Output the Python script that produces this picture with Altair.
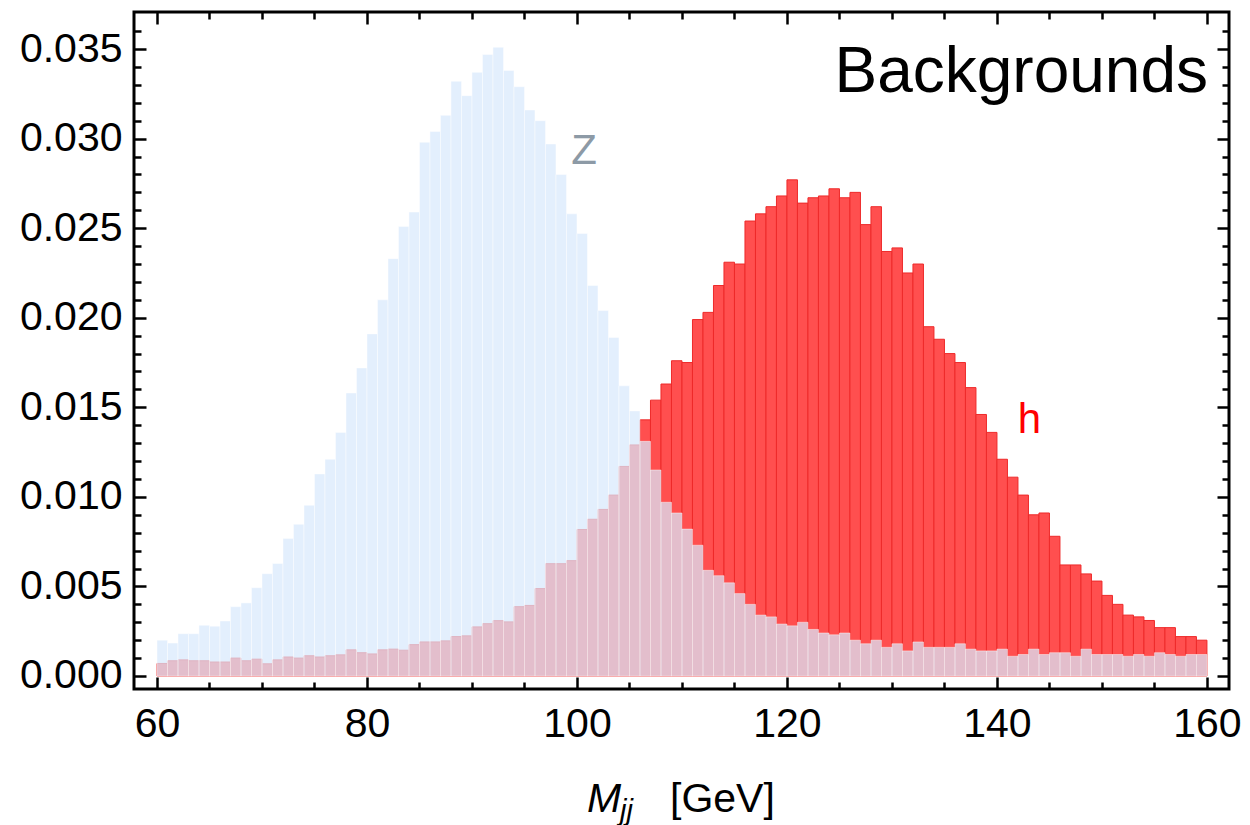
import altair as alt
import pandas as pd

# ---- data (bins of 1 GeV from 60 to 160) ----
bin_low = list(range(60, 160))

z_values = [
    0.0020, 0.00184, 0.00236, 0.00236, 0.00283, 0.00278, 0.00307, 0.00387, 0.00408, 0.00493,
    0.00571, 0.00628, 0.00767, 0.00847, 0.00953, 0.01128, 0.0121, 0.0136, 0.0158, 0.0172,
    0.0191, 0.0210, 0.0233, 0.0251, 0.0259, 0.0298, 0.0304, 0.0313, 0.0332, 0.0324,
    0.0337, 0.0347, 0.0351, 0.0338, 0.0329, 0.0316, 0.0310, 0.0297, 0.0280, 0.0258,
    0.0247, 0.0218, 0.0204, 0.0189, 0.0162, 0.0148, 0.0131, 0.0115, 0.0097, 0.0091,
    0.0082, 0.0073, 0.0059, 0.0056, 0.0052, 0.0046, 0.0040, 0.0034, 0.0033, 0.0029,
    0.0028, 0.0030, 0.0026, 0.0024, 0.0023, 0.0024, 0.0020, 0.0018, 0.0020, 0.0016,
    0.0018, 0.0014, 0.0019, 0.0016, 0.0016, 0.0016, 0.0018, 0.0015, 0.0014, 0.0014,
    0.0015, 0.0011, 0.0012, 0.0015, 0.0012, 0.0013, 0.0013, 0.0011, 0.0015, 0.0012,
    0.0012, 0.0012, 0.0011, 0.0012, 0.0011, 0.0013, 0.0012, 0.0011, 0.0012, 0.0012,
]

h_values = [
    0.0007, 0.00085, 0.0009, 0.00085, 0.00085, 0.00078, 0.00078, 0.0010, 0.00085, 0.00094,
    0.00068, 0.0009, 0.00106, 0.0010, 0.00113, 0.00106, 0.00113, 0.00118, 0.00146, 0.0013,
    0.00123, 0.00146, 0.0015, 0.00144, 0.00175, 0.0019, 0.0019, 0.00196, 0.0022, 0.00224,
    0.00274, 0.00292, 0.00309, 0.00302, 0.00387, 0.00394, 0.00488, 0.00627, 0.00627, 0.00644,
    0.00818, 0.00875, 0.0093, 0.0101, 0.0117, 0.0129, 0.0143, 0.0154, 0.0163, 0.0176,
    0.0175, 0.0199, 0.0203, 0.0218, 0.0231, 0.0230, 0.0254, 0.0258, 0.0262, 0.0268,
    0.0277, 0.0264, 0.0267, 0.0268, 0.0272, 0.0267, 0.0270, 0.0252, 0.0262, 0.0237,
    0.0239, 0.0225, 0.0230, 0.0195, 0.0188, 0.0180, 0.0175, 0.0161, 0.0146, 0.0136,
    0.0121, 0.0111, 0.0101, 0.0090, 0.0091, 0.0078, 0.0062, 0.0062, 0.0057, 0.0053,
    0.0045, 0.0040, 0.0034, 0.0033, 0.0031, 0.0027, 0.0027, 0.0022, 0.0022, 0.0020,
]

x_major = [60, 80, 100, 120, 140, 160]
x_minor = [v for v in range(60, 161, 5) if v % 20 != 0]
y_major = [0.000, 0.005, 0.010, 0.015, 0.020, 0.025, 0.030, 0.035]
y_minor = [i / 1000 for i in range(0, 37) if i % 5 != 0]

labels_text = ["Z", "h", "Backgrounds"]
labels_x = [100.67, 143.1, 160.1]
labels_y = [0.02858, 0.01356, 0.0326]

df = pd.DataFrame({
    "lo": bin_low,
    "hi": [b + 1 for b in bin_low],
    "z": z_values,
    "h": h_values,
    "base": [0.0] * len(bin_low),
})

FONT = "Liberation Sans"
RED = "#FF4F4F"
RED_EDGE = "#EE2A2A"
BLUE = "#D8E9FC"

xs = alt.Scale(domain=[57.81, 162.1], nice=False, zero=False)
ys = alt.Scale(domain=[-0.000726, 0.03707], nice=False, zero=False)


def ax(orient, values, size, labels, **kw):
    return alt.Axis(orient=orient, values=values, tickSize=size, offset=-size,
                    labels=labels, domain=False, grid=False, ticks=True,
                    tickColor="black", tickWidth=2.5, title=None, zindex=1, **kw)


lab_kw = dict(labelFont=FONT, labelFontSize=41, labelColor="black",
              labelFlush=False, labelOverlap=False, labelBound=False)

h_bars = alt.Chart(df).mark_rect(fill=RED, stroke=RED_EDGE, strokeWidth=1).encode(
    x=alt.X("lo:Q", scale=xs, axis=ax("bottom", x_major, 12, True, labelPadding=15, format="d", **lab_kw)),
    x2="hi:Q",
    y=alt.Y("h:Q", scale=ys, axis=ax("left", y_major, 12, True, labelPadding=12, format=".3f", **lab_kw)),
    y2="base:Q",
)

z_bars = alt.Chart(df).mark_rect(fill=BLUE, fillOpacity=0.72, stroke="white",
                                 strokeOpacity=0.45, strokeWidth=1).encode(
    x=alt.X("lo:Q", scale=xs, axis=ax("top", x_major, 12, False)),
    x2="hi:Q",
    y=alt.Y("z:Q", scale=ys, axis=ax("right", y_major, 12, False)),
    y2="base:Q",
)

minor_a = alt.Chart(df).mark_rect(opacity=0).encode(
    x=alt.X("lo:Q", scale=xs, axis=ax("bottom", x_minor, 7, False)),
    y=alt.Y("z:Q", scale=ys, axis=ax("left", y_minor, 7, False)),
)
minor_b = alt.Chart(df).mark_rect(opacity=0).encode(
    x=alt.X("lo:Q", scale=xs, axis=ax("top", x_minor, 7, False)),
    y=alt.Y("z:Q", scale=ys, axis=ax("right", y_minor, 7, False)),
)

ldf = pd.DataFrame({"x": labels_x, "y": labels_y, "t": labels_text})

z_label = alt.Chart(ldf[ldf.t == "Z"]).mark_text(
    font=FONT, fontSize=42, color="#8D9AA6", align="center", baseline="alphabetic"
).encode(x=alt.X("x:Q", scale=xs, axis=None), y=alt.Y("y:Q", scale=ys, axis=None), text="t:N")

h_label = alt.Chart(ldf[ldf.t == "h"]).mark_text(
    font=FONT, fontSize=42, color="#FF0000", align="center", baseline="alphabetic"
).encode(x=alt.X("x:Q", scale=xs, axis=None), y=alt.Y("y:Q", scale=ys, axis=None), text="t:N")

bg_label = alt.Chart(ldf[ldf.t == "Backgrounds"]).mark_text(
    font=FONT, fontSize=64, color="black", align="right", baseline="alphabetic"
).encode(x=alt.X("x:Q", scale=xs, axis=None), y=alt.Y("y:Q", scale=ys, axis=None), text="t:N")

one = pd.DataFrame({"a": [0]})
t_m = alt.Chart(one).mark_text(text="M", font=FONT, fontSize=41, fontStyle="italic",
                               align="left", baseline="alphabetic", color="black").encode(
    x=alt.value(453), y=alt.value(800))
t_jj = alt.Chart(one).mark_text(text="jj", font=FONT, fontSize=29, fontStyle="italic",
                                align="left", baseline="alphabetic", color="black").encode(
    x=alt.value(486), y=alt.value(808))
t_gev = alt.Chart(one).mark_text(text="[GeV]", font=FONT, fontSize=41,
                                 align="left", baseline="alphabetic", color="black").encode(
    x=alt.value(536), y=alt.value(800))

chart = alt.layer(
    h_bars, z_bars, minor_a, minor_b, z_label, h_label, bg_label, t_m, t_jj, t_gev
).resolve_axis(x="independent", y="independent").properties(
    width=1095, height=677,
    padding={"left": 134, "top": 12, "right": 21, "bottom": 136},
    autosize=alt.AutoSizeParams(type="none"),
).configure_view(stroke="black", strokeWidth=3)

chart.save("out.html", embed_options={"renderer": "svg", "actions": False})
